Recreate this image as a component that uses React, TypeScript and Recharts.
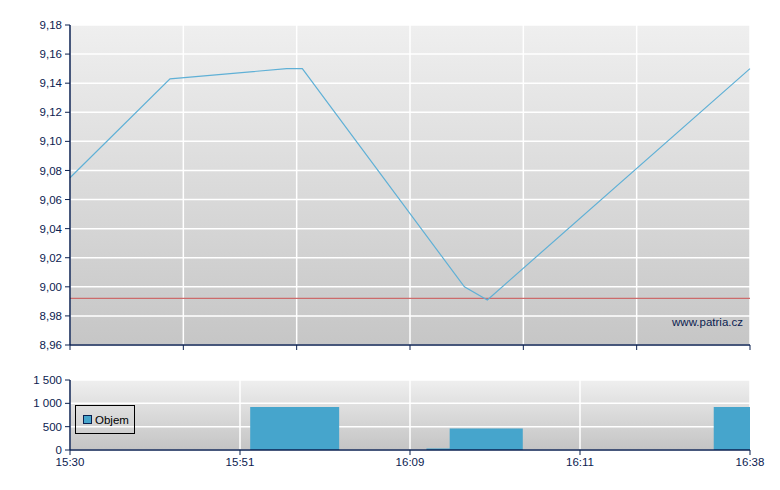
import {
  ComposedChart,
  LineChart,
  Line,
  Area,
  XAxis,
  YAxis,
  CartesianGrid,
  ReferenceLine,
} from "recharts";

// time axis runs 0..12 (index units across the session)
const priceX = [0, 1.765, 3.824, 4.1, 6.96, 7.365, 12];
const price = [9.075, 9.143, 9.15, 9.15, 9.0, 8.991, 9.15];
const prevClose = 8.992;

const priceTicks = [8.96, 8.98, 9.0, 9.02, 9.04, 9.06, 9.08, 9.1, 9.12, 9.14, 9.16, 9.18];
const topXTicks = [0, 2, 4, 6, 8, 10, 12];

const volStart = [3.18, 6.29, 6.7, 11.36];
const volEnd = [4.75, 6.7, 7.99, 12];
const volume = [920, 30, 460, 920];
const volTicks = [0, 500, 1000, 1500];

const timeTicks = [0, 3, 6, 9, 12];
const timeLabels = ["15:30", "15:51", "16:09", "16:11", "16:38"];

const priceData = priceX.map((x, i) => ({ x, p: price[i] }));

// step series: each bar opens at its start and drops back to zero at its end
const volData: { x: number; v: number }[] = [{ x: 0, v: 0 }];
volStart.forEach((s, i) => {
  volData.push({ x: s, v: volume[i] });
  if (volStart[i + 1] !== volEnd[i]) volData.push({ x: volEnd[i], v: 0 });
});
if (volData[volData.length - 1].x < 12) volData.push({ x: 12, v: 0 });
else volData[volData.length - 1] = { x: 12, v: volume[volume.length - 1] };

const navy = "#0b2150";
const font = "'Liberation Sans', Arial, sans-serif";
const tickStyle = { fill: navy, fontSize: 11.5, fontFamily: font };

const fmtPrice = (v: number) => v.toFixed(2).replace(".", ",");
const fmtVol = (v: number) =>
  v >= 1000 ? `${Math.floor(v / 1000)} ${String(v % 1000).padStart(3, "0")}` : String(v);

const App = () => {
  return (
    <div style={{ position: "relative", width: 780, height: 490, margin: -8, background: "#fff" }}>
      <div style={{ position: "absolute", left: 0, top: 0 }}>
        <LineChart
          width={780}
          height={360}
          data={priceData}
          margin={{ top: 25, right: 30, bottom: 0, left: 0 }}
        >
          <defs>
            <linearGradient id="bgTop" x1="0" y1="0" x2="0" y2="1">
              <stop offset="0%" stopColor="#efefef" />
              <stop offset="100%" stopColor="#c6c6c6" />
            </linearGradient>
          </defs>
          <CartesianGrid
            fill="url(#bgTop)"
            stroke="#ffffff"
            strokeWidth={1.5}
            horizontalValues={priceTicks}
            verticalValues={topXTicks}
          />
          <XAxis
            dataKey="x"
            type="number"
            domain={[0, 12]}
            ticks={topXTicks}
            tickFormatter={() => ""}
            tick={tickStyle}
            height={15}
            tickSize={5}
            stroke={navy}
            axisLine={{ stroke: navy, strokeWidth: 1.5 }}
            interval={0}
          />
          <YAxis
            type="number"
            domain={[8.96, 9.18]}
            ticks={priceTicks}
            tickFormatter={fmtPrice}
            tick={tickStyle}
            width={70}
            tickSize={5}
            tickMargin={3}
            stroke={navy}
            axisLine={{ stroke: navy, strokeWidth: 1.5 }}
            interval={0}
          />
          <ReferenceLine y={prevClose} stroke="#cc6b6b" strokeWidth={1.2} />
          <Line
            type="linear"
            dataKey="p"
            stroke="#5fb0d6"
            strokeWidth={1.2}
            dot={false}
            isAnimationActive={false}
          />
        </LineChart>
      </div>
      <div
        style={{
          position: "absolute",
          right: 37,
          top: 316,
          fontFamily: font,
          fontSize: 11.5,
          color: navy,
        }}
      >
        www.patria.cz
      </div>

      <div style={{ position: "absolute", left: 0, top: 365 }}>
        <ComposedChart
          width={780}
          height={110}
          data={volData}
          margin={{ top: 15, right: 30, bottom: 0, left: 0 }}
        >
          <defs>
            <linearGradient id="bgBot" x1="0" y1="0" x2="0" y2="1">
              <stop offset="0%" stopColor="#efefef" />
              <stop offset="100%" stopColor="#c4c4c4" />
            </linearGradient>
          </defs>
          <CartesianGrid
            fill="url(#bgBot)"
            stroke="#ffffff"
            strokeWidth={1.5}
            horizontalValues={volTicks}
            verticalValues={timeTicks}
          />
          <XAxis
            dataKey="x"
            type="number"
            domain={[0, 12]}
            ticks={timeTicks}
            tickFormatter={(v: number) => timeLabels[timeTicks.indexOf(v)]}
            tick={tickStyle}
            height={25}
            tickSize={5}
            tickMargin={3}
            stroke={navy}
            axisLine={{ stroke: navy, strokeWidth: 1.5 }}
            interval={0}
          />
          <YAxis
            type="number"
            domain={[0, 1500]}
            ticks={volTicks}
            tickFormatter={fmtVol}
            tick={tickStyle}
            width={70}
            tickSize={5}
            tickMargin={3}
            stroke={navy}
            axisLine={{ stroke: navy, strokeWidth: 1.5 }}
            interval={0}
          />
          <Area
            type="stepAfter"
            dataKey="v"
            stroke="none"
            fill="#46a5cc"
            fillOpacity={1}
            isAnimationActive={false}
          />
        </ComposedChart>
      </div>
      <div
        style={{
          position: "absolute",
          left: 75,
          top: 405,
          width: 58,
          height: 27,
          border: "1px solid #000",
          display: "flex",
          alignItems: "center",
          fontFamily: font,
          fontSize: 11.5,
          color: "#000",
        }}
      >
        <span
          style={{
            display: "inline-block",
            width: 7,
            height: 7,
            background: "#46a5cc",
            border: "1px solid #0b2150",
            marginLeft: 7,
            marginRight: 3,
          }}
        />
        Objem
      </div>
    </div>
  );
};

export default App;
